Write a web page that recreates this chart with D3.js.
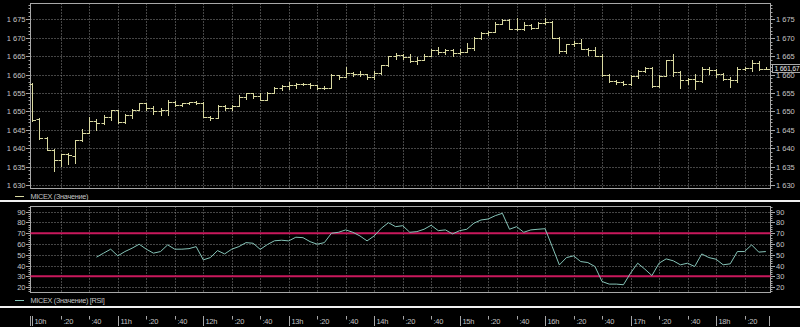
<!DOCTYPE html>
<html><head><meta charset="utf-8">
<script src="https://cdn.jsdelivr.net/npm/d3@7"></script>
<style>html,body{margin:0;padding:0;background:#000;}svg{display:block;}</style>
</head><body>
<script>
// ---- data ----
const barOpen = [1657.4,1648,1642.8,1639.6,1636.8,1638.3,1637.8,1642.2,1644.2,1647.5,
 1646.8,1648.6,1650.3,1647.1,1648.9,1650.5,1652.2,1650.8,1650,1650.3,
 1652.7,1651.8,1652.2,1652.5,1652.4,1648.6,1648.3,1651.6,1650.8,1651.6,
 1654,1654.9,1654.3,1653.2,1655.1,1656.5,1656.9,1657.1,1657.4,1657.5,
 1657.2,1656.4,1656.5,1659.8,1659.4,1660.5,1660.1,1660.1,1659.3,1660.5,
 1662.5,1665,1665.4,1664.8,1663.7,1664,1665.2,1666.8,1666.2,1666.6,
 1665.9,1666.2,1667.3,1669.9,1671.4,1671.6,1673.9,1674.9,1672.4,1672.5,
 1673.6,1672.7,1674,1674.3,1670.1,1666.5,1668.3,1668.7,1667,1666.8,
 1665.1,1660,1658.4,1658,1657.5,1659.5,1661.1,1661.9,1656.8,1659.7,
 1663.9,1660.8,1658.6,1658.9,1658.2,1661.5,1661.2,1660.2,1658.9,1658.6,
 1661.5,1661.8,1663.3,1661.6];
const barHigh = [1657.6,1648.2,1643,1639.8,1638.5,1638.6,1642.2,1645.3,1648.5,1648,
 1648.9,1650.5,1650.4,1649.2,1650.6,1652.4,1652.3,1651.5,1650.8,1653,
 1652.8,1652.4,1652.7,1652.8,1652.6,1648.8,1651.7,1651.8,1651.8,1654.4,
 1655.1,1655,1654.9,1655.3,1656.7,1657.2,1658,1657.7,1657.7,1657.6,
 1657.3,1657,1660.1,1660,1662,1660.6,1661.1,1660.2,1661.1,1662.6,
 1665.2,1665.8,1665.5,1665.6,1664.8,1665.6,1667.1,1667.4,1667.1,1666.9,
 1666.9,1668.5,1670.3,1671.6,1671.8,1674.3,1675.2,1675,1675.3,1674.2,
 1673.9,1674.3,1675.5,1674.6,1670.2,1668.4,1669.1,1669.6,1667.3,1667.5,
 1665.6,1660.1,1658.5,1658.4,1659.8,1661.3,1662.2,1662,1659.8,1664,
 1665.5,1660.9,1659.2,1660.3,1662,1662,1661.5,1660.4,1659.3,1662,
 1662.2,1663.9,1663.7,1662];
const barLow = [1647.3,1642.6,1639.4,1633.8,1635.1,1635.7,1636,1642,1644,1645,
 1646.6,1647.6,1646.9,1646.9,1648.2,1650.3,1650.3,1649.3,1649,1648.9,
 1651.4,1651.6,1652,1652.1,1648.4,1647.7,1648.2,1650.3,1650.3,1651.5,
 1653.5,1653.7,1653.1,1653,1655,1655.8,1656.1,1656.3,1657.1,1656.3,
 1656,1656,1656.4,1658.9,1659.3,1659.5,1659.5,1658.9,1658.9,1660.1,
 1662.4,1664.3,1664.3,1663.5,1662.8,1663.9,1665.1,1665.7,1665.5,1665.2,
 1665.7,1666.1,1666.8,1669.8,1670.9,1671.5,1673.8,1672.3,1672.2,1672.2,
 1672.4,1672.6,1673.8,1670,1666,1666,1667.8,1667,1665.4,1665,
 1659.7,1657.9,1657.5,1657.2,1657.3,1659.2,1660.7,1656.6,1656.6,1659.6,
 1659.6,1656.4,1657.4,1656.2,1658.1,1660.2,1659.3,1658.5,1656.6,1658.1,
 1661.2,1661,1661.2,1661.5];
const barClose = [1647.6,1642.8,1639.6,1636.8,1638.3,1638.2,1642.2,1644.2,1647.5,1646.8,
 1648.6,1650.3,1647.1,1648.9,1650.5,1652.2,1650.8,1650,1650.3,1652.7,
 1651.8,1652.2,1652.5,1652.4,1648.6,1648.3,1651.6,1650.8,1651.6,1654,
 1654.9,1654.3,1653.2,1655.1,1656.5,1656.9,1657.1,1657.4,1657.5,1657.2,
 1656.4,1656.5,1659.8,1659.4,1660.5,1660.1,1660.1,1659.3,1660.5,1662.5,
 1665,1665.4,1664.8,1663.7,1664,1665.2,1666.8,1666.2,1666.6,1665.9,
 1666.2,1667.3,1669.9,1671.4,1671.6,1673.9,1674.9,1672.4,1672.5,1673.6,
 1672.7,1674,1674.3,1670.1,1666.5,1668.3,1668.7,1667,1666.8,1665.1,
 1660,1658.4,1658,1657.5,1659.5,1661.1,1661.9,1656.8,1659.7,1663.9,
 1660.8,1658.6,1658.9,1658.2,1661.5,1661.2,1660.2,1658.9,1658.6,1661.5,
 1661.8,1663.3,1661.6,1661.67];
const rsiValues = [null,null,null,null,null,null,null,null,null,47.8,
 51.5,55.2,49,53,56.1,59.8,55.2,51.5,53,59.2,
 55.2,55.2,55.7,57.6,45.3,47.4,53.9,50.8,55.2,57.6,
 61.3,60.7,55,59.5,63,63.5,62.9,66.3,65.9,62.2,
 59.8,61.3,70,70.9,73.1,70.9,67.5,62.9,67.5,74.6,
 79.8,76.1,77,70.9,71.5,73.7,77.4,72.4,73.1,69.4,
 72.4,73.7,79.3,82.3,83.2,86.3,88.5,73.7,76.1,70.9,
 73.1,73.7,74.2,57.6,40.6,47.4,49,43.7,42.8,39.1,
 25.2,22.8,22.8,22.2,33,42.2,36.7,30.7,42.2,46.2,
 44.4,40.7,42.2,39.1,50.8,47.4,45.9,40.7,41.6,53,
 53,59.2,52.5,53];
const barMinutes = 5;            // bar interval (minutes from 10:00)
const priceTicks = [1630,1635,1640,1645,1650,1655,1660,1665,1670,1675];
const rsiTicks = [20,30,40,50,60,70,80,90];
const rsiLevels = [30,70];
const timeTickLabels = ["10h",":20",":40","11h",":20",":40","12h",":20",":40","13h",":20",":40",
 "14h",":20",":40","15h",":20",":40","16h",":20",":40","17h",":20",":40","18h",":20"];
const lastPriceLabel = "1 661,67";
const legend1 = "MICEX (Значение)";
const legend2 = "MICEX (Значение) [RSI]";

// ---- style ----
const W = 800, H = 327;
const BAR = "#d8d8a0", RSI = "#86c4b8", RED = "#c8185c", TXT = "#c4c4c4",
      GRID = "#8a8a8a", BORDER = "#a8a8a8";
const FONT = "'Liberation Sans', Arial, sans-serif";
const L = 30.5, R = 770.5;

const svg = d3.select("body").append("svg").attr("width", W).attr("height", H);
svg.append("rect").attr("width", W).attr("height", H).attr("fill", "#000");

const x = d3.scaleLinear().domain([-1.3, 518.6]).range([L, R + 0.5]);
const yP = d3.scaleLinear().domain([1629.1, 1679.4]).range([188.3, 3.3]);
const yR = d3.scaleLinear().domain([15, 95]).range([292.5, 206.3]);
const px = v => Math.round(v) + 0.5;

function fmtPrice(v) { const s = String(v); return s.slice(0,1) + " " + s.slice(1); }

function panel(top, bottom, yScale, hTicks, minorStep, minorDomain, fmt, skipGrid) {
  const g = svg.append("g");
  timeTickLabels.forEach((t, i) => {
    const xx = px(x(i * 20));
    if (i === 0) return;
    g.append("line").attr("x1", xx).attr("x2", xx).attr("y1", top).attr("y2", bottom)
      .attr("stroke", GRID).attr("stroke-dasharray", "1,2");
  });
  hTicks.forEach(v => {
    if (skipGrid && skipGrid.includes(v)) return;
    const yy = px(yScale(v));
    g.append("line").attr("x1", L).attr("x2", R).attr("y1", yy).attr("y2", yy)
      .attr("stroke", GRID).attr("stroke-dasharray", "1,2");
  });
  for (let v = minorDomain[0]; v <= minorDomain[1] + 1e-9; v += minorStep) {
    const yy = px(yScale(v));
    if (yy < top || yy > bottom) continue;
    g.append("line").attr("x1", L - 2).attr("x2", L).attr("y1", yy).attr("y2", yy).attr("stroke", BORDER);
    g.append("line").attr("x1", R).attr("x2", R + 2).attr("y1", yy).attr("y2", yy).attr("stroke", BORDER);
  }
  hTicks.forEach(v => {
    const yy = px(yScale(v));
    g.append("line").attr("x1", L - 4.5).attr("x2", L).attr("y1", yy).attr("y2", yy).attr("stroke", BORDER);
    g.append("line").attr("x1", R).attr("x2", R + 4.5).attr("y1", yy).attr("y2", yy).attr("stroke", BORDER);
    g.append("text").attr("x", L - 5).attr("y", yy + 2.8).attr("text-anchor", "end")
      .attr("fill", TXT).attr("font-family", FONT).attr("font-size", 7.5).text(fmt(v));
    g.append("text").attr("x", R + 5.5).attr("y", yy + 2.8)
      .attr("fill", TXT).attr("font-family", FONT).attr("font-size", 7.5).text(fmt(v));
  });
  g.append("rect").attr("x", L).attr("y", top).attr("width", R - L).attr("height", bottom - top)
    .attr("fill", "none").attr("stroke", BORDER);
  return g;
}

// ---- upper price panel ----
panel(3.5, 188.5, yP, priceTicks, 1, [1629, 1679], fmtPrice);
const bars = svg.append("g").attr("stroke", BAR).attr("stroke-width", 1).attr("fill", "none");
barClose.forEach((c, i) => {
  const xx = px(x(i * barMinutes));
  const g = bars.append("g");
  g.append("line").attr("x1", xx).attr("x2", xx)
    .attr("y1", Math.round(yP(barHigh[i]))).attr("y2", Math.round(yP(barLow[i])) + 1);
  const yo = px(yP(barOpen[i])), yc = px(yP(c));
  g.append("line").attr("x1", xx - 3).attr("x2", xx).attr("y1", yo).attr("y2", yo);
  g.append("line").attr("x1", xx).attr("x2", xx + 3.5).attr("y1", yc).attr("y2", yc);
});
// last price box
const lastY = Math.round(yP(barClose[barClose.length - 1]));
svg.append("rect").attr("x", 772.5).attr("y", lastY - 4.5).attr("width", 30).attr("height", 8)
  .attr("fill", "#000").attr("stroke", BORDER);
svg.append("text").attr("x", 774.5).attr("y", lastY + 2.2).attr("fill", "#e8e8e8")
  .attr("font-family", FONT).attr("font-size", 7).attr("letter-spacing", -0.3).text(lastPriceLabel);

// legend 1
svg.append("line").attr("x1", 15).attr("x2", 24).attr("y1", 196.5).attr("y2", 196.5).attr("stroke", BAR);
svg.append("text").attr("x", 30.5).attr("y", 199).attr("fill", TXT).attr("font-family", FONT)
  .attr("font-size", 7.3).attr("letter-spacing", -0.3).text(legend1);

svg.append("rect").attr("x", 0).attr("y", 200).attr("width", W).attr("height", 2).attr("fill", "#f0f0f0");

// ---- RSI panel ----
panel(206.5, 292.5, yR, rsiTicks, 2, [16, 94], v => String(v), rsiLevels);
rsiLevels.forEach(v => {
  svg.append("line").attr("x1", L).attr("x2", R).attr("y1", yR(v)).attr("y2", yR(v))
    .attr("stroke", RED).attr("stroke-width", 2);
});
const rsiData = rsiValues.map((v, i) => ({ t: i * barMinutes, v })).filter(d => d.v !== null);
svg.append("path").datum(rsiData)
  .attr("d", d3.line().x(d => x(d.t)).y(d => yR(d.v)))
  .attr("fill", "none").attr("stroke", RSI).attr("stroke-width", 1);

// legend 2
svg.append("line").attr("x1", 15).attr("x2", 24).attr("y1", 300.5).attr("y2", 300.5).attr("stroke", RSI);
svg.append("text").attr("x", 30.5).attr("y", 303).attr("fill", TXT).attr("font-family", FONT)
  .attr("font-size", 7.3).attr("letter-spacing", -0.3).text(legend2);

svg.append("rect").attr("x", 0).attr("y", 306).attr("width", W).attr("height", 2).attr("fill", "#f0f0f0");

// ---- time axis ----
const ta = svg.append("g");
ta.append("line").attr("x1", L).attr("x2", L).attr("y1", 316).attr("y2", 326).attr("stroke", BORDER);
ta.append("line").attr("x1", 769.5).attr("x2", 769.5).attr("y1", 316).attr("y2", 326).attr("stroke", BORDER);
timeTickLabels.forEach((lab, i) => {
  const xx = px(x(i * 20));
  const isHour = lab.endsWith("h");
  ta.append("line").attr("x1", xx).attr("x2", xx).attr("y1", 316).attr("y2", isHour ? 326 : 319.5)
    .attr("stroke", BORDER);
  ta.append("text").attr("x", xx + 2).attr("y", 323.8).attr("fill", TXT).attr("font-family", FONT)
    .attr("font-size", 7.5).attr("letter-spacing", -0.3).text(lab);
});
</script>
</body></html>
